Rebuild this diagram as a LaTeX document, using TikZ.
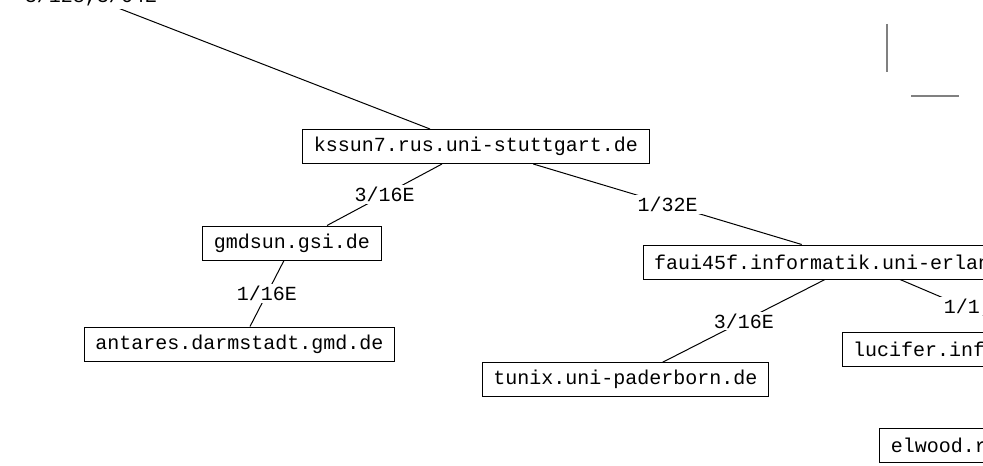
\documentclass[tikz,border=0pt]{standalone}
\usepackage{fontspec}
\setmonofont{Liberation Mono}
\usetikzlibrary{calc}
\begin{document}
\begin{tikzpicture}[x=0.5pt,y=-0.5pt,
		host/.style={draw,line width=0.5pt,font=\ttfamily\fontsize{10}{12}\selectfont,minimum height=17pt,inner xsep=5.5pt,inner ysep=0pt},
		rate/.style={fill=white,font=\ttfamily\fontsize{10}{12}\selectfont,inner xsep=2.5pt,inner ysep=1pt},
		link/.style={line width=0.5pt}]
		\useasboundingbox (0,0) rectangle (983,465);
		\clip (0,0) rectangle (983,465);
		\node[host] (kssun) at (476,146.5) {kssun7.rus.uni-stuttgart.de};
		\node[host] (gmdsun) at (292,243) {gmdsun.gsi.de};
		\node[host] (antares) at (239.5,344) {antares.darmstadt.gmd.de};
		\node[host,anchor=west] (faui) at (642.7,262) {faui45f.informatik.uni-erlan};
		\node[host] (tunix) at (625.5,379.7) {tunix.uni-paderborn.de};
		\node[host,anchor=west] (lucifer) at (841.7,349.7) {lucifer.inf};
		\node[host,anchor=west] (elwood) at (879.3,445) {elwood.r};
		\coordinate (root) at (-248,-134);
		\draw[link] (root) -- node[rate]{3/128,3/64E} ($(kssun.north)+(-46,0)$);
		\draw[link] ($(kssun.south)+(-34,0)$) -- node[rate]{3/16E} ($(gmdsun.north)+(35,0)$);
		\draw[link] ($(gmdsun.south)+(-8,0)$) -- node[rate]{1/16E} ($(antares.north)+(10.5,0)$);
		\draw[link] ($(kssun.south)+(57.3,0)$) -- node[rate]{1/32E} ($(faui.north west)+(159,0)$);
		\draw[link] ($(faui.south west)+(182.3,0)$) -- node[rate]{3/16E} ($(tunix.north)+(37.2,0)$);
		\draw[link] ($(faui.south west)+(257.3,0)$) -- node[rate]{1/1} ($(lucifer.north west)+(182,0)$);
		\draw[gray,line width=1pt] (886.7,24) -- (886.7,71.7);
		\draw[gray,line width=1pt] (911,96) -- (959,96);
\end{tikzpicture}
\end{document}
